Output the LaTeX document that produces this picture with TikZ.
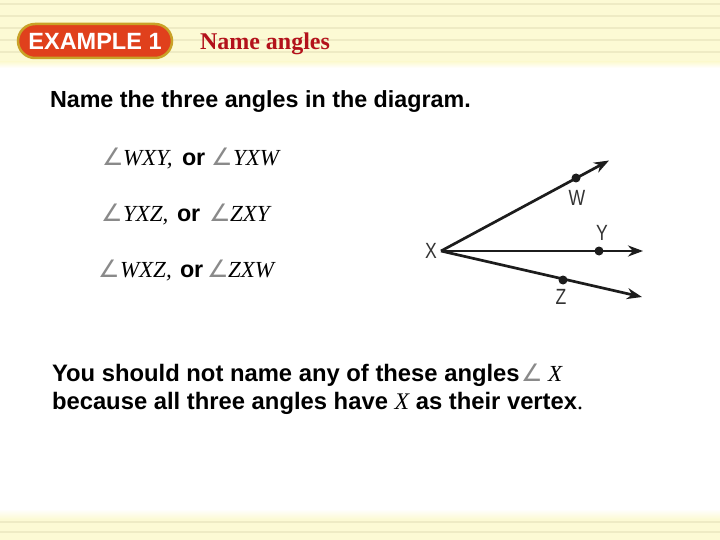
\documentclass[tikz,border=0pt]{standalone}
\usepackage{fontspec}
\setmainfont{Liberation Serif}
\setsansfont{Liberation Sans}
\newfontfamily\symfont{DejaVu Sans}
\newfontfamily\lblfont[FakeStretch=0.8]{Liberation Sans}
\usetikzlibrary{arrows.meta}
\definecolor{bannerY}{HTML}{FCFAD4}
\definecolor{stripeY}{HTML}{EEEBC4}
\definecolor{exred}{HTML}{E0401C}
\definecolor{exgold}{HTML}{C9A227}
\definecolor{titlered}{HTML}{B3121B}
\definecolor{anggray}{HTML}{8A8A8A}
\definecolor{raygray}{HTML}{1C1C1C}
\definecolor{lblgray}{HTML}{333333}
\newcommand\angsym{{\symfont\color{anggray}∠}}
\begin{document}
\begin{tikzpicture}[x=1pt,y=-1pt,
  txt/.style={anchor=base west, inner sep=0pt, outer sep=0pt},
  boldtxt/.style={txt, font=\sffamily\bfseries\fontsize{23.3}{28}\selectfont},
  bigbold/.style={txt, font=\sffamily\bfseries\fontsize{23.8}{28}\selectfont},
  ittxt/.style={txt, font=\itshape\fontsize{23}{28}\selectfont},
  angtxt/.style={txt, font=\fontsize{24}{28}\selectfont},
  ray/.style={draw=raygray, line width=2.7pt, -{Stealth[length=15pt,width=11pt]}},
  dot/.style={circle, fill=raygray, inner sep=0pt, minimum size=9pt},
  lbl/.style={font=\lblfont\fontsize{22}{26}\selectfont, text=lblgray, inner sep=0pt},
  button/.style={rounded corners=17pt, draw=exgold, line width=2.5pt, fill=exred,
    minimum width=154pt, minimum height=34pt, text=white, inner sep=0pt,
    font=\sffamily\bfseries\fontsize{23.5}{27}\selectfont}
]
\useasboundingbox (0,0) rectangle (720,540);
\fill[white] (0,0) rectangle (720,540);
% top banner
\fill[bannerY] (0,0) rectangle (720,62);
\shade[top color=bannerY, bottom color=white] (0,62) rectangle (720,68);
\foreach \yy in {3,15,27,39,51} \fill[stripeY] (0,\yy) rectangle (720,\yy+1.6);
% bottom band
\shade[top color=white, bottom color=bannerY] (0,509) rectangle (720,519);
\fill[bannerY] (0,519) rectangle (720,540);
\foreach \yy in {521,531} \fill[stripeY] (0,\yy) rectangle (720,\yy+1.6);

\node[button] (ex) at (95,41) {EXAMPLE 1};
\node[txt, font=\bfseries\fontsize{24}{28}\selectfont, text=titlered] (title) at (200,50) {Name angles};

\node[boldtxt] (q) at (50,108) {Name the three angles in the diagram.};

% row 1
\node[angtxt] (a1) at (102,166) {\angsym};
\node[ittxt] (r1a) at (123,166) {WXY,};
\node[boldtxt] (r1o) at (182,166) {or};
\node[angtxt] (a2) at (211,166) {\angsym};
\node[ittxt] (r1b) at (233,166) {YXW};
% row 2
\node[angtxt] (a3) at (101,222) {\angsym};
\node[ittxt] (r2a) at (123,222) {YXZ,};
\node[boldtxt] (r2o) at (177,222) {or};
\node[angtxt] (a4) at (209,222) {\angsym};
\node[ittxt] (r2b) at (230,222) {ZXY};
% row 3
\node[angtxt] (a5) at (98,277) {\angsym};
\node[ittxt] (r3a) at (120,277) {WXZ,};
\node[boldtxt] (r3o) at (180,277) {or};
\node[angtxt] (a6) at (207,277) {\angsym};
\node[ittxt] (r3b) at (228,277) {ZXW};

% diagram
\coordinate (X) at (441,251);
\coordinate (Wend) at (609,160.5);
\coordinate (Yend) at (643,251);
\coordinate (Zend) at (642,297);
\draw[ray] (X) -- (Wend);
\draw[ray] (X) -- (Yend);
\draw[ray] (X) -- (Zend);
\node[dot] (W) at (576,178) {};
\node[dot] (Y) at (599,251) {};
\node[dot] (Z) at (563,280) {};
\node[lbl] (Xl) at (431,251) {X};
\node[lbl] (Wl) at (577,198) {W};
\node[lbl] (Yl) at (602,233) {Y};
\node[lbl] (Zl) at (561,297) {Z};

% bottom text
\node[bigbold] (b1) at (52,381) {You should not name any of these angles};
\node[angtxt] (a7) at (521,381) {\angsym};
\node[ittxt] (b1x) at (548,381) {X};
\node[bigbold] (b2) at (52,409) {because all three angles have {\rmfamily\mdseries\itshape X} as their vertex{\rmfamily\mdseries .}};
\end{tikzpicture}
\end{document}
